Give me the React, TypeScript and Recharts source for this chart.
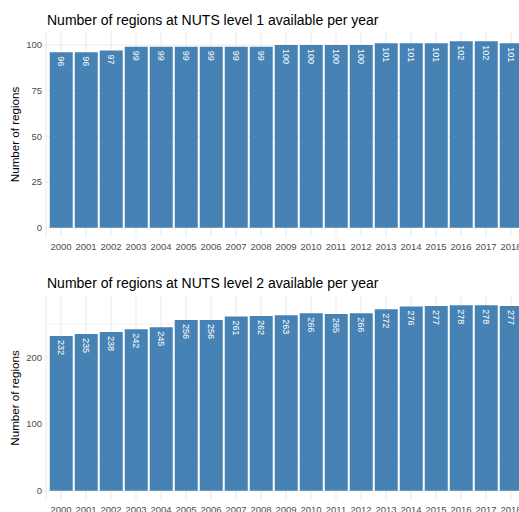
import { Bar, BarChart, CartesianGrid, LabelList, XAxis, YAxis } from "recharts";

const years = [
  "2000", "2001", "2002", "2003", "2004", "2005", "2006", "2007", "2008", "2009",
  "2010", "2011", "2012", "2013", "2014", "2015", "2016", "2017", "2018",
];
const nuts1 = [96, 96, 97, 99, 99, 99, 99, 99, 99, 100, 100, 100, 100, 101, 101, 101, 102, 102, 101];
const nuts2 = [232, 235, 238, 242, 245, 256, 256, 261, 262, 263, 266, 265, 266, 272, 276, 277, 278, 278, 277];

const nuts1Ticks = [0, 25, 50, 75, 100];
const nuts1Minor = [12.5, 37.5, 62.5, 87.5];
const nuts2Ticks = [0, 100, 200];
const nuts2Minor = [50, 150, 250];

const FONT = '"Liberation Sans", Arial, sans-serif';
const GRID = "#EBEBEB";
const FILL = "#4682B4";

function BarLabel(props: any) {
  const { x, y, width, value } = props;
  const cx = x + width / 2;
  const ty = y + 4;
  return (
    <text
      x={cx}
      y={ty}
      transform={`rotate(90, ${cx}, ${ty})`}
      textAnchor="start"
      dominantBaseline="central"
      fill="#ffffff"
      fontSize={9}
      fontFamily={FONT}
    >
      {value}
    </text>
  );
}

type PanelProps = {
  title: string;
  values: number[];
  ticks: number[];
  minor: number[];
  top: number;
  marginTop: number;
  plotHeight: number;
  titleY: number;
};

function Panel({ title, values, ticks, minor, top, marginTop, plotHeight, titleY }: PanelProps) {
  const data = years.map((year, i) => ({ year, count: values[i] }));
  const max = Math.max(...values);
  const pad = max * 0.05;
  const height = marginTop + plotHeight + 30;
  return (
    <div style={{ position: "absolute", left: 0, top, width: 560, height }}>
      <div
        style={{
          position: "absolute",
          left: 47,
          top: titleY - 9,
          fontFamily: FONT,
          fontSize: 14,
          lineHeight: "18px",
          color: "#000",
          whiteSpace: "nowrap",
        }}
      >
        {title}
      </div>
      <BarChart
        width={540}
        height={height}
        data={data}
        margin={{ top: marginTop, right: 14, left: 0, bottom: 0 }}
        barCategoryGap="5%"
      >
        <CartesianGrid
          horizontalValues={minor}
          vertical={false}
          stroke={GRID}
          strokeWidth={0.6}
        />
        <CartesianGrid horizontalValues={ticks} stroke={GRID} strokeWidth={1.1} />
        <XAxis
          dataKey="year"
          interval={0}
          axisLine={false}
          tickLine={false}
          tickSize={0}
          tickMargin={6}
          height={30}
          padding={{ left: 2.5, right: 2.5 }}
          tick={{ fill: "#4D4D4D", fontSize: 9.5, fontFamily: FONT }}
        />
        <YAxis
          type="number"
          domain={[-pad, max + pad]}
          allowDataOverflow
          ticks={ticks}
          width={46}
          axisLine={false}
          tickLine={false}
          tickSize={0}
          tickMargin={4}
          tick={{ fill: "#4D4D4D", fontSize: 9.5, fontFamily: FONT }}
          label={{
            value: "Number of regions",
            angle: -90,
            position: "insideLeft",
            offset: 15,
            style: { textAnchor: "middle", fontSize: 11.6, fontFamily: FONT, fill: "#000" },
          }}
        />
        <Bar dataKey="count" fill={FILL} isAnimationActive={false}>
          <LabelList dataKey="count" content={BarLabel} />
        </Bar>
      </BarChart>
    </div>
  );
}

export default function App() {
  return (
    <div
      style={{
        position: "absolute",
        left: 0,
        top: 0,
        width: 519,
        height: 512,
        overflow: "hidden",
        background: "#fff",
      }}
    >
      <Panel
        title="Number of regions at NUTS level 1 available per year"
        values={nuts1}
        ticks={nuts1Ticks}
        minor={nuts1Minor}
        top={0}
        marginTop={32}
        plotHeight={205}
        titleY={20}
      />
      <Panel
        title="Number of regions at NUTS level 2 available per year"
        values={nuts2}
        ticks={nuts2Ticks}
        minor={nuts2Minor}
        top={260}
        marginTop={36}
        plotHeight={204}
        titleY={23}
      />
    </div>
  );
}
